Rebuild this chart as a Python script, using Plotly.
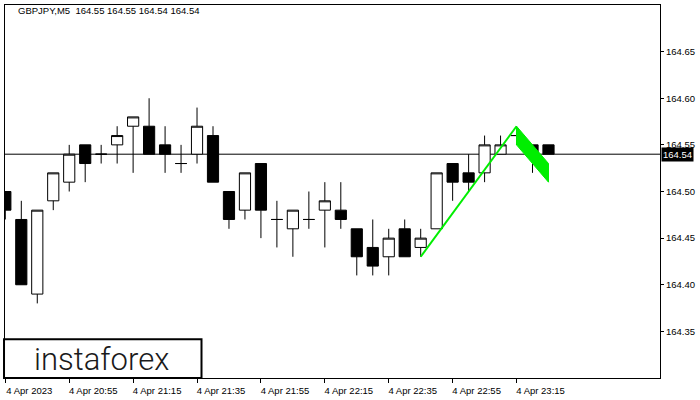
import plotly.graph_objects as go

symbol = "GBPJPY,M5"
idx = list(range(35))
opens = [164.50, 164.47, 164.39, 164.49, 164.51, 164.55, 164.54, 164.55, 164.57, 164.57,
         164.55, 164.53, 164.54, 164.56, 164.50, 164.48, 164.53, 164.47, 164.46, 164.47,
         164.48, 164.48, 164.46, 164.44, 164.43, 164.46, 164.44, 164.46, 164.53, 164.52,
         164.52, 164.54, 164.56, 164.55, 164.55]
highs = [164.50, 164.49, 164.48, 164.52, 164.55, 164.55, 164.55, 164.57, 164.58, 164.60,
         164.57, 164.55, 164.59, 164.57, 164.50, 164.52, 164.53, 164.49, 164.48, 164.50,
         164.51, 164.51, 164.46, 164.47, 164.46, 164.47, 164.46, 164.52, 164.53, 164.54,
         164.56, 164.56, 164.57, 164.55, 164.55]
lows = [164.47, 164.40, 164.38, 164.48, 164.50, 164.51, 164.53, 164.53, 164.52, 164.54,
        164.52, 164.52, 164.53, 164.51, 164.46, 164.47, 164.45, 164.44, 164.43, 164.46,
        164.44, 164.46, 164.41, 164.41, 164.41, 164.43, 164.43, 164.46, 164.49, 164.50,
        164.51, 164.54, 164.55, 164.52, 164.54]
closes = [164.48, 164.40, 164.48, 164.52, 164.54, 164.53, 164.54, 164.56, 164.58, 164.54,
          164.54, 164.53, 164.57, 164.51, 164.47, 164.52, 164.48, 164.47, 164.48, 164.47,
          164.49, 164.47, 164.43, 164.42, 164.45, 164.43, 164.45, 164.52, 164.51, 164.51,
          164.55, 164.55, 164.56, 164.54, 164.54]

tick_idx = [0, 4, 8, 12, 16, 20, 24, 28, 32]
tick_text = ["4 Apr 2023", "4 Apr 20:55", "4 Apr 21:15", "4 Apr 21:35", "4 Apr 21:55",
             "4 Apr 22:15", "4 Apr 22:35", "4 Apr 22:55", "4 Apr 23:15"]
y_ticks = [164.35, 164.40, 164.45, 164.50, 164.55, 164.60, 164.65]

# pattern: pole and flag
pole_x = [26, 32]
pole_y = [164.43, 164.57]
flag_x = [32, 34, 34, 32]
flag_y = [164.57, 164.53, 164.51, 164.55]

last_price = closes[-1]
green = "#00ee00"
font = "Liberation Sans"

fig = go.Figure()
fig.add_trace(go.Candlestick(
    x=idx, open=opens, high=highs, low=lows, close=closes,
    increasing=dict(fillcolor="white", line=dict(color="black", width=1)),
    decreasing=dict(fillcolor="black", line=dict(color="black", width=1)),
    whiskerwidth=0, hoverinfo="skip", showlegend=False))
fig.add_trace(go.Scatter(x=flag_x + [flag_x[0]], y=flag_y + [flag_y[0]], mode="lines",
                         fill="toself", fillcolor=green, line=dict(color=green, width=1),
                         hoverinfo="skip", showlegend=False))
fig.add_trace(go.Scatter(x=pole_x, y=pole_y, mode="lines",
                         line=dict(color=green, width=2),
                         hoverinfo="skip", showlegend=False))

fig.add_hline(y=last_price, line=dict(color="black", width=1), layer="below")

fig.add_annotation(xref="paper", yref="y", x=1, y=last_price, xanchor="left", yanchor="middle",
                   xshift=1, text=f"{last_price:.2f}", showarrow=False, bgcolor="black",
                   font=dict(color="white", size=9.5, family=font), borderpad=1)
fig.add_annotation(xref="paper", yref="paper", x=0.0168, y=0.984, xanchor="left", yanchor="middle",
                   text=f"{symbol}  {opens[-1]:.2f} {highs[-1]:.2f} {lows[-1]:.2f} {closes[-1]:.2f}",
                   showarrow=False, font=dict(color="black", size=9.5, family=font))
fig.add_shape(type="rect", xref="paper", yref="paper", x0=-0.0015, x1=0.3, y0=0.0, y1=0.104,
              line=dict(color="black", width=2), fillcolor="white", layer="above")
fig.add_annotation(xref="paper", yref="paper", x=0.147, y=0.05, xanchor="center", yanchor="middle",
                   text="instaforex", showarrow=False,
                   font=dict(color="#1a1a1a", size=31, family="Roboto", weight=300))

fig.update_layout(
    width=700, height=400, margin=dict(l=4, r=40, t=4, b=21),
    paper_bgcolor="white", plot_bgcolor="white",
    boxgap=0.3, boxgroupgap=0,
    xaxis=dict(range=[-0.02, 40.98], rangeslider=dict(visible=False), showgrid=False,
               zeroline=False, showline=True, mirror=True, linecolor="black", linewidth=1,
               tickmode="array", tickvals=tick_idx, ticktext=tick_text, ticks="outside",
               ticklen=4, tickcolor="black", ticklabelshift=24,
               tickfont=dict(family=font, size=9.5, color="black")),
    yaxis=dict(range=[164.30, 164.70], side="right", showgrid=False, zeroline=False,
               showline=True, mirror=True, linecolor="black", linewidth=1,
               tickmode="array", tickvals=y_ticks, ticktext=[f"{v:.2f}" for v in y_ticks],
               ticks="outside", ticklen=3, tickcolor="black",
               tickfont=dict(family=font, size=9.5, color="black")),
)
fig.write_html("out.html", config={"displayModeBar": False},
               post_script="document.body.style.margin='0px';document.body.style.overflow='hidden';")
